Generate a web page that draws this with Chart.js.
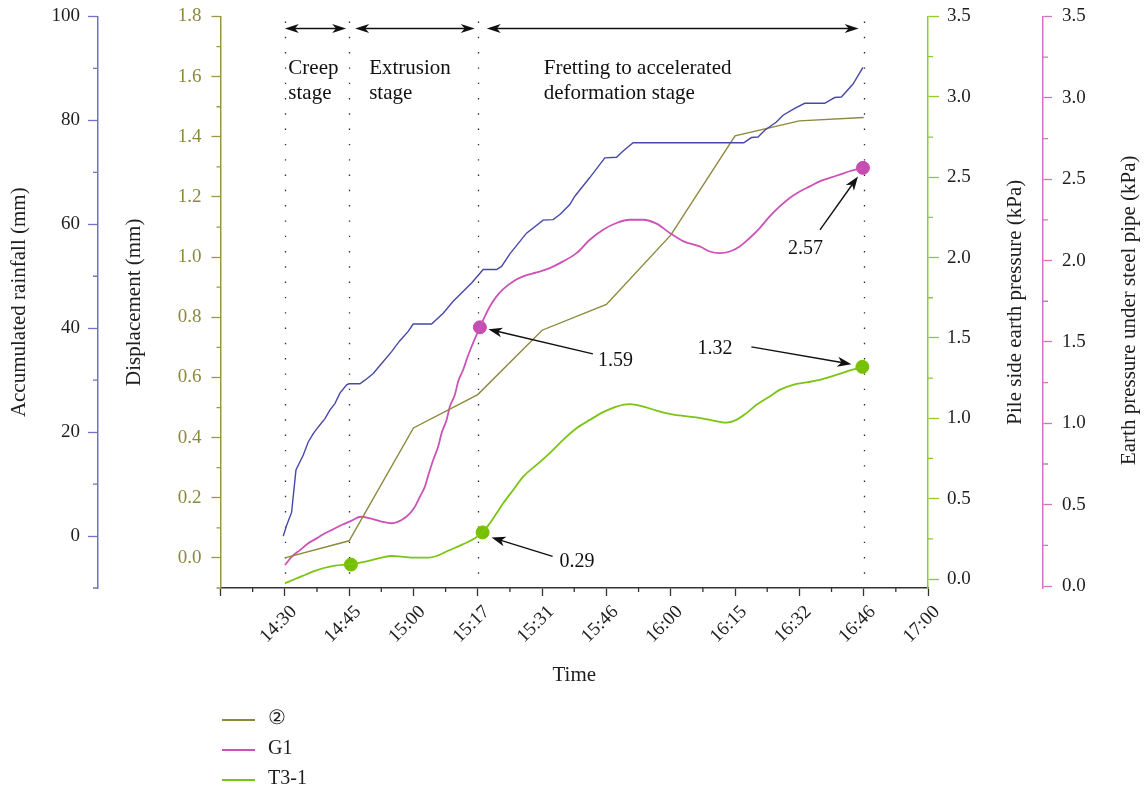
<!DOCTYPE html>
<html>
<head>
<meta charset="utf-8">
<title>Rainfall, displacement and earth pressure</title>
<script src="https://cdn.jsdelivr.net/npm/chart.js@4.4.1/dist/chart.umd.min.js"></script>
<style>
  html, body { margin: 0; padding: 0; background: #ffffff; }
  #wrap { width: 1145px; height: 791px; }
</style>
</head>
<body>
<div id="wrap"><canvas id="chart" width="1145" height="791"></canvas></div>
<script>
// Time axis: equally spaced readings, position 0 is the unlabeled origin
const TIME_LABELS = ['', '14:30', '14:45', '15:00', '15:17', '15:31', '15:46', '16:00', '16:15', '16:32', '16:46', '17:00'];

// Accumulated rainfall (mm)
const RAIN_X = [0.976, 1.029, 1.106, 1.173, 1.287, 1.364, 1.442, 1.520, 1.624, 1.702, 1.779, 1.857, 1.961, 1.997,
  2.168, 2.246, 2.375, 2.505, 2.660, 2.789, 2.918, 2.996, 3.282, 3.462, 3.618, 3.904, 4.084, 4.292, 4.370, 4.499,
  4.758, 5.016, 5.172, 5.276, 5.431, 5.509, 5.742, 5.975, 6.157, 6.260, 6.415, 8.135, 8.255, 8.357, 8.462, 8.643,
  8.746, 8.928, 9.083, 9.394, 9.549, 9.653, 9.834, 9.989];
const RAIN_MM = [0, 2.1, 4.6, 12.7, 15.6, 18.1, 19.7, 21.0, 22.6, 24.3, 25.5, 27.5, 29.1, 29.3,
  29.3, 30.0, 31.3, 33.2, 35.5, 37.6, 39.4, 40.8, 40.8, 42.9, 45.2, 48.7, 51.3, 51.3, 51.9, 54.3,
  58.3, 60.8, 60.9, 61.9, 63.8, 65.4, 69.0, 72.8, 72.9, 74.1, 75.7, 75.7, 76.7, 76.8, 78.1, 79.7,
  81.0, 82.3, 83.3, 83.3, 84.4, 84.5, 87.0, 90.2];

// Displacement of monitoring point 2 (mm)
const DISP_X = [1, 2, 3, 4, 5, 6, 7, 8, 9, 10];
const DISP_MM = [0.0, 0.057, 0.432, 0.543, 0.757, 0.843, 1.073, 1.403, 1.453, 1.464];

// G1: earth pressure under steel pipe (kPa)
const G1_X = [1.002, 1.106, 1.235, 1.364, 1.495, 1.624, 1.753, 1.883, 2.039, 2.183, 2.323, 2.505, 2.660, 2.816,
  2.945, 3.023, 3.100, 3.178, 3.240, 3.307, 3.385, 3.437, 3.515, 3.566, 3.644, 3.695, 3.773, 3.835, 3.904,
  3.981, 4.033, 4.110, 4.188, 4.292, 4.395, 4.550, 4.706, 4.914, 5.120, 5.327, 5.535, 5.742, 5.949, 6.157,
  6.364, 6.570, 6.779, 6.985, 7.192, 7.451, 7.607, 7.762, 7.918, 8.073, 8.228, 8.384, 8.539, 8.695, 8.850,
  9.006, 9.161, 9.317, 9.472, 9.627, 9.783, 9.989];
const G1_KPA = [0.129, 0.180, 0.221, 0.263, 0.293, 0.324, 0.349, 0.375, 0.402, 0.426, 0.416, 0.396, 0.386, 0.406,
  0.447, 0.488, 0.549, 0.611, 0.693, 0.775, 0.857, 0.939, 1.021, 1.103, 1.175, 1.257, 1.329, 1.401, 1.472,
  1.544, 1.590, 1.657, 1.718, 1.780, 1.825, 1.872, 1.903, 1.927, 1.954, 1.995, 2.046, 2.128, 2.190, 2.231,
  2.251, 2.251, 2.227, 2.170, 2.120, 2.087, 2.056, 2.046, 2.056, 2.087, 2.139, 2.200, 2.272, 2.333, 2.385,
  2.425, 2.456, 2.487, 2.508, 2.528, 2.549, 2.570];

// T3-1: pile side earth pressure (kPa)
const T31_X = [1.002, 1.158, 1.313, 1.469, 1.624, 1.779, 2.028, 2.194, 2.350, 2.505, 2.660, 2.816, 3.023, 3.229,
  3.360, 3.540, 3.748, 3.955, 4.075, 4.188, 4.292, 4.395, 4.550, 4.706, 4.914, 5.120, 5.327, 5.535, 5.742,
  5.949, 6.157, 6.364, 6.570, 6.779, 6.985, 7.192, 7.400, 7.658, 7.866, 8.022, 8.177, 8.333, 8.539, 8.695,
  8.901, 9.109, 9.317, 9.524, 9.731, 9.980];
const T31_KPA = [-0.027, 0.000, 0.025, 0.050, 0.070, 0.083, 0.092, 0.104, 0.118, 0.133, 0.143, 0.139, 0.133, 0.133,
  0.143, 0.176, 0.212, 0.253, 0.290, 0.347, 0.409, 0.471, 0.554, 0.637, 0.710, 0.783, 0.866, 0.938, 0.990,
  1.038, 1.073, 1.088, 1.073, 1.048, 1.028, 1.015, 1.005, 0.986, 0.973, 0.990, 1.032, 1.084, 1.136, 1.177,
  1.208, 1.223, 1.239, 1.264, 1.291, 1.320];

// Highlighted readings
const G1_MARK_X = [4.033, 9.989];
const G1_MARK_KPA = [1.59, 2.57];
const T31_MARK_X = [2.028, 4.075, 9.980];
const T31_MARK_KPA = [0.09, 0.29, 1.32];

// Axis tick labels
const RAIN_TICKS = [0, 20, 40, 60, 80, 100];
const DISP_TICKS = [0.0, 0.2, 0.4, 0.6, 0.8, 1.0, 1.2, 1.4, 1.6, 1.8];
const PILE_TICKS = [0.0, 0.5, 1.0, 1.5, 2.0, 2.5, 3.0, 3.5];
const PIPE_TICKS = [0.0, 0.5, 1.0, 1.5, 2.0, 2.5, 3.0, 3.5];

// Stage boundaries on the time axis and stage names
const STAGE_BOUNDS = [1, 2, 4, 10];
const STAGE_NAMES = [['Creep', 'stage'], ['Extrusion', 'stage'], ['Fretting to accelerated', 'deformation stage']];

const FONT = "'Liberation Serif', 'Times New Roman', 'DejaVu Serif', serif";
const C_RAIN = '#4649ab', C_RAIN_AX = '#7173c6';
const C_DISP = '#8b893b', C_DISP_AX = '#999746';
const C_G1 = '#cc52b8', C_G1_AX = '#d672c6';
const C_T31 = '#7cc414', C_T31_AX = '#8ccd2c';
const INK = '#1e1e1e';

Chart.defaults.font.family = FONT;
Chart.defaults.color = INK;

const pts = (xs, ys) => xs.map((x, i) => ({ x: x, y: ys[i] }));

function setTicks(list) { return s => { s.ticks = list.map(v => ({ value: v })); }; }
// Fixed box size; label overhang is absorbed by the layout padding instead
function fixedWidth(w) {
  return s => { s.width = w; s.paddingTop = 0; s.paddingBottom = 0; };
}

function yAxis(opts) {
  return {
    type: 'linear',
    position: opts.position,
    weight: opts.weight,
    min: opts.min,
    max: opts.max,
    afterBuildTicks: setTicks(opts.ticks),
    afterFit: fixedWidth(opts.width),
    ticks: {
      callback: opts.fmt,
      color: opts.labelColor,
      font: { size: 19 },
      padding: opts.pad
    },
    grid: {
      drawOnChartArea: false,
      drawTicks: true,
      tickLength: opts.tickLen,
      tickColor: opts.axisColor,
      tickWidth: 1.3
    },
    border: { color: opts.axisColor, width: 1.5 },
    title: opts.title ? {
      display: true,
      text: opts.title,
      color: INK,
      font: { size: 21 },
      padding: { top: opts.titlePad, bottom: 0 }
    } : { display: false }
  };
}

// Minor ticks, half-length, between the labelled ones
const MINOR = {
  x: { from: 0.5, step: 1, to: 10.5, len: 4, color: '#333' },
  yRain: { from: -10, step: 20, to: 90, len: 5, color: C_RAIN_AX },
  yDisp: { from: -0.1, step: 0.2, to: 1.7, len: 4, color: C_DISP_AX },
  yPile: { from: 0.25, step: 0.5, to: 3.25, len: 5, color: C_T31_AX },
  yPipe: { from: 0.25, step: 0.5, to: 3.25, len: 5, color: C_G1_AX }
};

const minorTicks = {
  id: 'minorTicks',
  afterDraw(chart) {
    const ctx = chart.ctx;
    ctx.save();
    ctx.lineWidth = 1.3;
    for (const id in MINOR) {
      const m = MINOR[id], s = chart.scales[id];
      ctx.strokeStyle = m.color;
      ctx.beginPath();
      for (let v = m.from; v <= m.to + 1e-9; v += m.step) {
        const p = s.getPixelForValue(v);
        if (id === 'x') { ctx.moveTo(p, s.top); ctx.lineTo(p, s.top + m.len); }
        else if (s.position === 'left') { ctx.moveTo(s.right, p); ctx.lineTo(s.right - m.len, p); }
        else { ctx.moveTo(s.left, p); ctx.lineTo(s.left + m.len, p); }
      }
      ctx.stroke();
    }
    ctx.restore();
  }
};

// Titles of the right-hand axes, reading bottom to top
const rightTitles = {
  id: 'rightTitles',
  afterDraw(chart) {
    const ctx = chart.ctx, area = chart.chartArea;
    const items = [
      { id: 'yPile', text: 'Pile side earth pressure (kPa)', inset: 28, dy: 0 },
      { id: 'yPipe', text: 'Earth pressure under steel pipe (kPa)', inset: 16, dy: 8 }
    ];
    ctx.save();
    ctx.fillStyle = INK;
    ctx.font = '21px ' + FONT;
    ctx.textAlign = 'center';
    ctx.textBaseline = 'middle';
    for (const it of items) {
      const s = chart.scales[it.id];
      ctx.save();
      ctx.translate(s.right - it.inset, (area.top + area.bottom) / 2 + it.dy);
      ctx.rotate(-Math.PI / 2);
      ctx.fillText(it.text, 0, 0);
      ctx.restore();
    }
    ctx.restore();
  }
};

function arrowHead(ctx, x1, y1, x2, y2, len, half) {
  const a = Math.atan2(y2 - y1, x2 - x1);
  ctx.save();
  ctx.translate(x2, y2);
  ctx.rotate(a);
  ctx.beginPath();
  ctx.moveTo(0, 0);
  ctx.lineTo(-len, -half);
  ctx.lineTo(-len * 0.72, 0);
  ctx.lineTo(-len, half);
  ctx.closePath();
  ctx.fill();
  ctx.restore();
}

function arrow(ctx, x1, y1, x2, y2, len, half, both) {
  const a = Math.atan2(y2 - y1, x2 - x1);
  const back = len * 0.7;
  ctx.beginPath();
  ctx.moveTo(both ? x1 + Math.cos(a) * back : x1, both ? y1 + Math.sin(a) * back : y1);
  ctx.lineTo(x2 - Math.cos(a) * back, y2 - Math.sin(a) * back);
  ctx.stroke();
  arrowHead(ctx, x1, y1, x2, y2, len, half);
  if (both) arrowHead(ctx, x2, y2, x1, y1, len, half);
}

// Dotted stage boundaries
const stageLines = {
  id: 'stageLines',
  beforeDatasetsDraw(chart) {
    const ctx = chart.ctx, area = chart.chartArea, x = chart.scales.x;
    ctx.save();
    ctx.strokeStyle = '#2a2a2a';
    ctx.lineWidth = 1.3;
    ctx.setLineDash([1.4, 13.9]);
    for (const b of STAGE_BOUNDS) {
      const px = Math.round(x.getPixelForValue(b)) + 0.5;
      ctx.beginPath();
      ctx.moveTo(px, area.top + 5);
      ctx.lineTo(px, area.bottom);
      ctx.stroke();
    }
    ctx.restore();
  }
};

// Stage arrows, stage names and value callouts
const CALLOUTS = [
  { ds: 4, idx: 0, text: '1.59', tip: [8.5, 2], tail: [113, 26.5], at: [118, 38.5], align: 'left' },
  { ds: 5, idx: 1, text: '0.29', tip: [9, 5], tail: [70, 24], at: [77, 34.5], align: 'left' },
  { ds: 5, idx: 2, text: '1.32', tip: [-11, -2.7], tail: [-111, -20], at: [-130, -13], align: 'right' },
  { ds: 4, idx: 1, text: '2.57', tip: [-5, 8.7], tail: [-43, 62], at: [-75, 86], align: 'left' }
];
const STAGE_TEXT_DX = [3.5, 20, 66];

const annotations = {
  id: 'annotations',
  afterDatasetsDraw(chart) {
    const ctx = chart.ctx, area = chart.chartArea, x = chart.scales.x;
    ctx.save();
    ctx.fillStyle = '#111';
    ctx.strokeStyle = '#111';
    ctx.lineWidth = 1.5;
    const ay = area.top + 12;
    const gaps = [[0, 3], [6, 3], [9, 5]];
    for (let i = 0; i < 3; i++) {
      const xa = x.getPixelForValue(STAGE_BOUNDS[i]) + gaps[i][0];
      const xb = x.getPixelForValue(STAGE_BOUNDS[i + 1]) - gaps[i][1];
      arrow(ctx, xa, ay, xb, ay, 14, 4.5, true);
    }
    ctx.font = '21px ' + FONT;
    ctx.textAlign = 'left';
    ctx.textBaseline = 'alphabetic';
    for (let i = 0; i < 3; i++) {
      const tx = x.getPixelForValue(STAGE_BOUNDS[i]) + STAGE_TEXT_DX[i];
      ctx.fillText(STAGE_NAMES[i][0], tx, area.top + 57);
      ctx.fillText(STAGE_NAMES[i][1], tx, area.top + 82);
    }
    ctx.lineWidth = 1.4;
    ctx.font = '20px ' + FONT;
    for (const c of CALLOUTS) {
      const el = chart.getDatasetMeta(c.ds).data[c.idx];
      const mx = el.x, my = el.y;
      arrow(ctx, mx + c.tail[0], my + c.tail[1], mx + c.tip[0], my + c.tip[1], 14, 5, false);
      ctx.textAlign = c.align;
      ctx.fillText(c.text, mx + c.at[0], my + c.at[1]);
    }
    ctx.restore();
  }
};

// Legend listing the displacement and pressure series
const sideLegend = {
  id: 'sideLegend',
  afterDraw(chart) {
    const ctx = chart.ctx, area = chart.chartArea;
    const x0 = area.left + 1.5;
    ctx.save();
    ctx.font = '20px ' + FONT;
    ctx.textBaseline = 'middle';
    ctx.textAlign = 'left';
    let row = 0;
    chart.data.datasets.forEach(ds => {
      if (!ds.inLegend) return;
      const y = area.bottom + 132 + row * 30;
      ctx.strokeStyle = ds.borderColor;
      ctx.lineWidth = 2;
      ctx.beginPath();
      ctx.moveTo(x0, y);
      ctx.lineTo(x0 + 33, y);
      ctx.stroke();
      ctx.fillStyle = INK;
      ctx.fillText(ds.label, x0 + 46, y - 1);
      row++;
    });
    ctx.restore();
  }
};

new Chart(document.getElementById('chart'), {
  type: 'line',
  data: {
    datasets: [
      { label: 'Accumulated rainfall', data: pts(RAIN_X, RAIN_MM), yAxisID: 'yRain',
        borderColor: C_RAIN, borderWidth: 1.4, pointRadius: 0, inLegend: false },
      { label: '②', data: pts(DISP_X, DISP_MM), yAxisID: 'yDisp',
        borderColor: C_DISP, borderWidth: 1.4, pointRadius: 0, inLegend: true },
      { label: 'G1', data: pts(G1_X, G1_KPA), yAxisID: 'yPipe',
        borderColor: C_G1, borderWidth: 1.8, pointRadius: 0, cubicInterpolationMode: 'monotone', inLegend: true },
      { label: 'T3-1', data: pts(T31_X, T31_KPA), yAxisID: 'yPile',
        borderColor: C_T31, borderWidth: 1.8, pointRadius: 0, cubicInterpolationMode: 'monotone', inLegend: true },
      { label: 'G1 marks', data: pts(G1_MARK_X, G1_MARK_KPA), yAxisID: 'yPipe', showLine: false,
        pointRadius: 6.5, pointBackgroundColor: '#c64db2', pointBorderColor: '#c64db2', borderColor: C_G1, inLegend: false },
      { label: 'T3-1 marks', data: pts(T31_MARK_X, T31_MARK_KPA), yAxisID: 'yPile', showLine: false,
        pointRadius: 6.5, pointBackgroundColor: '#76c000', pointBorderColor: '#76c000', borderColor: C_T31, inLegend: false }
    ]
  },
  options: {
    responsive: false,
    animation: false,
    events: [],
    layout: { padding: { top: 16.5, bottom: 103, left: 0, right: 0 } },
    plugins: { legend: { display: false }, tooltip: { enabled: false } },
    scales: {
      x: {
        type: 'linear',
        position: 'bottom',
        min: 0,
        max: 11,
        afterBuildTicks: setTicks(TIME_LABELS.map((_, i) => i)),
        afterFit: s => { s.height = 100; s.paddingLeft = 0; s.paddingRight = 0; },
        ticks: {
          autoSkip: false,
          minRotation: 45,
          maxRotation: 45,
          font: { size: 19 },
          color: INK,
          padding: 5,
          labelOffset: 9,
          callback: v => TIME_LABELS[v] || ''
        },
        grid: { drawOnChartArea: false, drawTicks: true, tickLength: 8, tickColor: '#333', tickWidth: 1.3 },
        border: { color: '#333', width: 1.5 },
        title: { display: true, text: 'Time', color: INK, font: { size: 21 }, padding: { top: 0, bottom: 0 } }
      },
      yRain: yAxis({ position: 'left', weight: 1, min: -10, max: 100, ticks: RAIN_TICKS, width: 98,
        fmt: v => String(v), labelColor: INK, pad: 8, tickLen: 10, axisColor: C_RAIN_AX,
        title: 'Accumulated rainfall (mm)', titlePad: 7 }),
      yDisp: yAxis({ position: 'left', weight: 0, min: -0.1, max: 1.8, ticks: DISP_TICKS, width: 122.5,
        fmt: v => v.toFixed(1), labelColor: C_DISP, pad: 10, tickLen: 9, axisColor: C_DISP_AX,
        title: 'Displacement (mm)', titlePad: 24 }),
      yPile: yAxis({ position: 'right', weight: 0, min: -0.056, max: 3.5, ticks: PILE_TICKS, width: 115,
        fmt: v => v.toFixed(1), labelColor: INK, pad: 8, tickLen: 11, axisColor: C_T31_AX }),
      yPipe: yAxis({ position: 'right', weight: 1, min: -0.012, max: 3.5, ticks: PIPE_TICKS, width: 102,
        fmt: v => v.toFixed(1), labelColor: INK, pad: 10, tickLen: 9, axisColor: C_G1_AX })
    }
  },
  plugins: [stageLines, annotations, minorTicks, rightTitles, sideLegend]
});
</script>
</body>
</html>
